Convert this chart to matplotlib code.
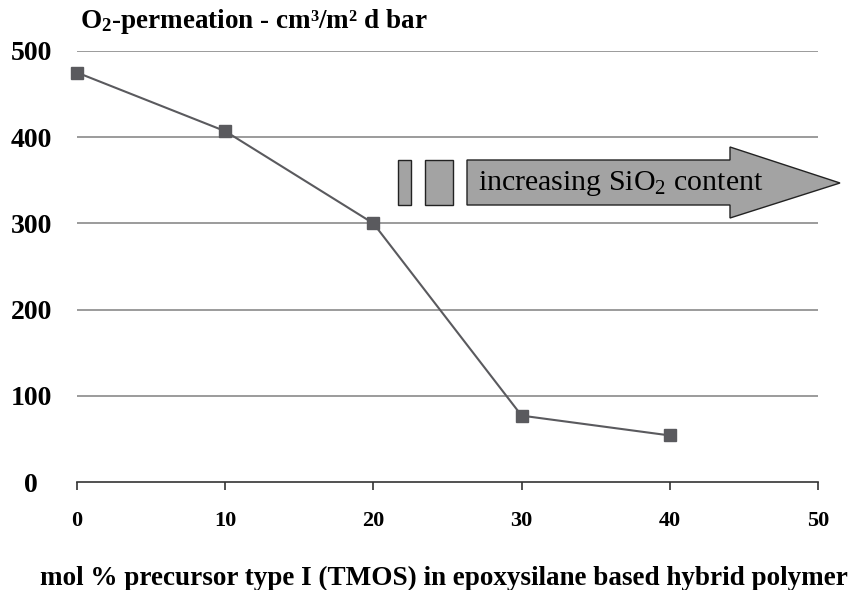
import matplotlib.pyplot as plt
from matplotlib.patches import Rectangle, Polygon

# data
tmos_mol = [0, 10, 20, 30, 40]
o2_perm = [475, 407, 300, 77, 54]
x_ticks = [0, 10, 20, 30, 40, 50]
y_ticks = [0, 100, 200, 300, 400, 500]

W, H = 848, 590
plt.rcParams['font.family'] = ['Liberation Serif', 'DejaVu Serif']
plt.rcParams['mathtext.default'] = 'regular'

fig = plt.figure(figsize=(W / 100, H / 100), dpi=100)
ax = fig.add_axes([77 / W, 1 - 482 / H, (818 - 77) / W, (482 - 51) / H])

ax.set_xlim(0, 50)
ax.set_ylim(0, 500)
ax.set_xticks(x_ticks)
ax.set_yticks(y_ticks)

for v in y_ticks[1:]:
    ax.axhline(v, color='#8a8a8a', lw=1.2, zorder=1)

ax.plot(tmos_mol, o2_perm, color='#5a5a5e', lw=1.5, marker='s', ms=9,
        markerfacecolor='#5a5a5e', markeredgecolor='#5a5a5e', zorder=3, clip_on=False)

for s in ['top', 'right', 'left']:
    ax.spines[s].set_visible(False)
ax.spines['bottom'].set_color('#333333')
ax.spines['bottom'].set_linewidth(1.2)

ax.tick_params(axis='x', direction='out', length=6, width=1.2, color='#333333', pad=15,
               labelsize=16)
ax.tick_params(axis='y', length=0, pad=33, labelsize=20)
for lab in ax.get_xticklabels() + ax.get_yticklabels():
    lab.set_fontweight('bold')
for lab in ax.get_yticklabels():
    lab.set_ha('center')

fig.text(80 / W, 1 - 22 / H, r'O$_2$-permeation - cm³/m² d bar', fontsize=19.5, fontweight='bold',
         va='center', ha='left')
fig.text(40 / W, 1 - 578 / H,
         'mol % precursor type I (TMOS) in epoxysilane based hybrid polymer',
         fontsize=19.5, fontweight='bold', va='center', ha='left')

# decorative arrow (figure pixel coordinates)
def px(x, y):
    return (x / W, 1 - y / H)

grey = '#a3a3a3'
edge = '#222222'
for x0, x1 in [(398, 411), (425, 453)]:
    fig.patches.append(Rectangle(px(x0, 205), (x1 - x0) / W, 45 / H, facecolor=grey,
                                 edgecolor=edge, lw=1.0, transform=fig.transFigure))
arrow_pts = [px(467, 160), px(730, 160), px(730, 147), px(840, 183), px(730, 218),
             px(730, 205), px(467, 205)]
fig.patches.append(Polygon(arrow_pts, closed=True, facecolor=grey, edgecolor=edge, lw=1.0,
                           transform=fig.transFigure))
fig.text(478 / W, 1 - 184 / H, r'increasing SiO$_2$ content', fontsize=21.5,
         va='center', ha='left')

fig.savefig('out.png', dpi=100)
